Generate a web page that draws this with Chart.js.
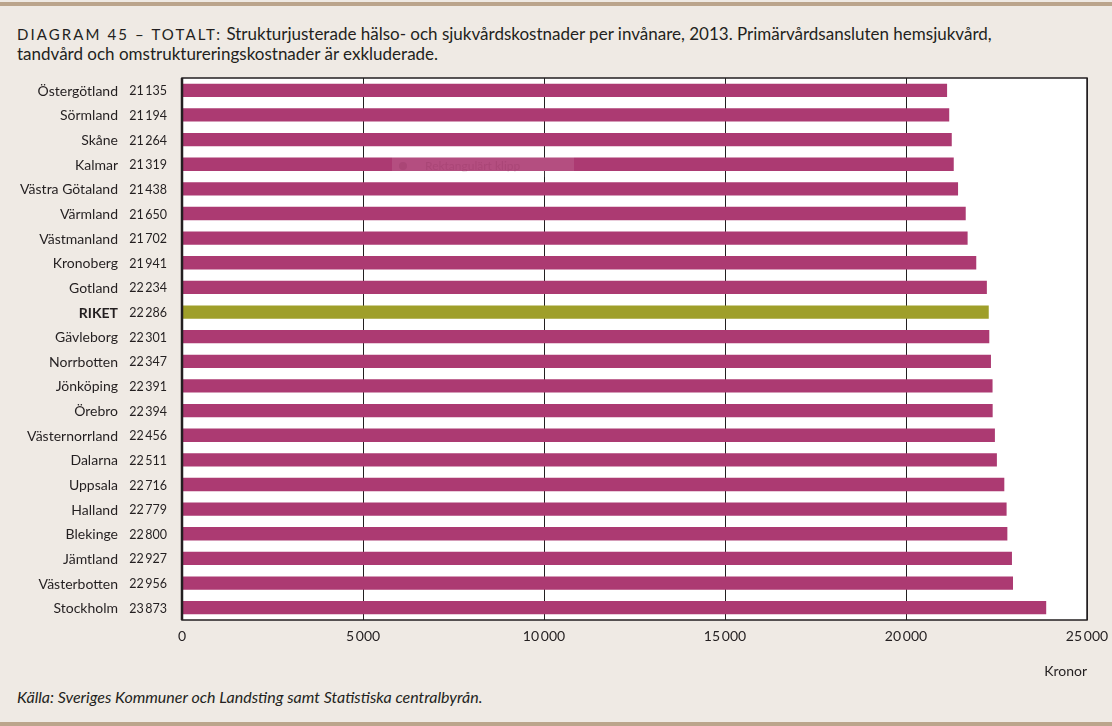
<!DOCTYPE html>
<html>
<head>
<meta charset="utf-8">
<script src="https://cdn.jsdelivr.net/npm/chart.js@4"></script>
<style>
  html, body { margin: 0; padding: 0; }
  body { width: 1112px; height: 726px; background: #efeae4; position: relative; overflow: hidden; font-family: "Lato", sans-serif; color: #231f20; }
  .rule { position: absolute; left: 0; width: 1112px; height: 4px; background: #bba58c; }
  #title { position: absolute; left: 17px; top: 22px; font-size: 17px; line-height: 20px; white-space: nowrap; }
  #title .sc { font-variant-caps: all-small-caps; font-size: 22px; letter-spacing: 2.1px; }
  #source { position: absolute; left: 17px; top: 687px; font-size: 16px; font-style: italic; }
  #wrap { position: absolute; left: 0; top: 0; width: 1112px; height: 726px; }
</style>
</head>
<body>
<div class="rule" style="top:2px"></div>
<div class="rule" style="top:722px"></div>
<div id="title"><span class="sc">DIAGRAM 45 – TOTALT:</span> Strukturjusterade hälso- och sjukvårdskostnader per invånare, 2013. Primärvårdsansluten hemsjukvård,<br>tandvård och omstruktureringskostnader är exkluderade.</div>
<div id="source">Källa: Sveriges Kommuner och Landsting samt Statistiska centralbyrån.</div>
<div id="wrap"><canvas id="mycanvas" width="1112" height="726"></canvas></div>
<script>
var regions = ["Östergötland", "Sörmland", "Skåne", "Kalmar", "Västra Götaland", "Värmland", "Västmanland",
  "Kronoberg", "Gotland", "RIKET", "Gävleborg", "Norrbotten", "Jönköping", "Örebro", "Västernorrland",
  "Dalarna", "Uppsala", "Halland", "Blekinge", "Jämtland", "Västerbotten", "Stockholm"];
var kronor = [21135, 21194, 21264, 21319, 21438, 21650, 21702, 21941, 22234, 22286, 22301, 22347,
  22391, 22394, 22456, 22511, 22716, 22779, 22800, 22927, 22956, 23873];
var xTicks = [0, 5000, 10000, 15000, 20000, 25000];

var ink = "#231f20";
var fam = "Lato, sans-serif";

function fmt(n) {
  var s = String(n);
  return s.length > 3 ? s.slice(0, s.length - 3) + "\u2009" + s.slice(s.length - 3) : s;
}

var barColors = regions.map(function(r) { return r === "RIKET" ? "#9f9f2a" : "#ac3a72"; });

var plotBox = {
  id: "plotBox",
  beforeDraw: function(chart) {
    var a = chart.chartArea, c = chart.ctx;
    c.save();
    c.fillStyle = "#ffffff";
    c.fillRect(a.left, a.top, a.right - a.left, a.bottom - a.top);
    c.restore();
  },
  afterDatasetsDraw: function(chart) {
    var a = chart.chartArea, c = chart.ctx;
    c.save();
    c.strokeStyle = ink;
    c.lineWidth = 1.5;
    c.strokeRect(a.left, a.top, a.right - a.left, a.bottom - a.top);
    c.lineWidth = 2.5;
    c.beginPath();
    c.moveTo(a.left, a.top);
    c.lineTo(a.left, a.bottom);
    c.stroke();
    // names and values, two right-aligned columns
    var y = chart.scales.y;
    c.fillStyle = ink;
    c.textAlign = "right";
    c.textBaseline = "middle";
    for (var i = 0; i < kronor.length; i++) {
      var py = y.getPixelForValue(i) + 1;
      c.font = (regions[i] === "RIKET" ? "bold " : "") + "14px " + fam;
      c.fillText(regions[i], 118, py);
      c.font = "12.5px " + fam;
      c.fillText(fmt(kronor[i]), 167, py);
    }
    // faint snipping-tool tooltip left in the picture
    c.fillStyle = "rgba(255,255,255,0.10)";
    c.fillRect(392, 157, 182, 20);
    c.fillStyle = "rgba(120,30,70,0.16)";
    c.font = "12px " + fam;
    c.textAlign = "left";
    c.fillText("Rektangulärt klipp", 425, 166);
    c.beginPath();
    c.arc(403, 166, 4, 0, Math.PI * 2);
    c.fill();
    c.restore();
  }
};

var ctx = document.getElementById("mycanvas");

var chartdata = {
  labels: regions,
  datasets: [
    {
      label: "Kronor",
      data: kronor,
      backgroundColor: barColors,
      borderWidth: 0,
      barPercentage: 0.54,
      categoryPercentage: 1.0
    }
  ]
};

var BarGraph = new Chart(ctx, {
  type: "bar",
  data: chartdata,
  plugins: [plotBox],
  options: {
    indexAxis: "y",
    responsive: false,
    animation: false,
    events: [],
    layout: { padding: { top: 78, right: 25, bottom: 0, left: 0 } },
    plugins: { legend: { display: false }, tooltip: { enabled: false } },
    scales: {
      x: {
        min: 0,
        max: 25000,
        afterBuildTicks: function(scale) {
          scale.ticks = xTicks.map(function(v) { return { value: v }; });
        },
        afterFit: function(scale) {
          scale.height = 106;
          scale.paddingRight = 0;
          scale.paddingLeft = 0;
        },
        grid: { color: ink, lineWidth: 1, drawTicks: false },
        border: { display: false },
        ticks: {
          color: ink,
          padding: 8,
          maxRotation: 0,
          font: { family: fam, size: 14 },
          callback: function(v) { return fmt(v); }
        },
        title: {
          display: true,
          text: "Kronor",
          align: "end",
          color: ink,
          font: { family: fam, size: 14 },
          padding: { top: 16, bottom: 46 }
        }
      },
      y: {
        afterFit: function(scale) { scale.width = 182; },
        grid: { display: false, drawTicks: false },
        border: { display: false },
        ticks: { display: false }
      }
    }
  }
});
</script>
</body>
</html>
